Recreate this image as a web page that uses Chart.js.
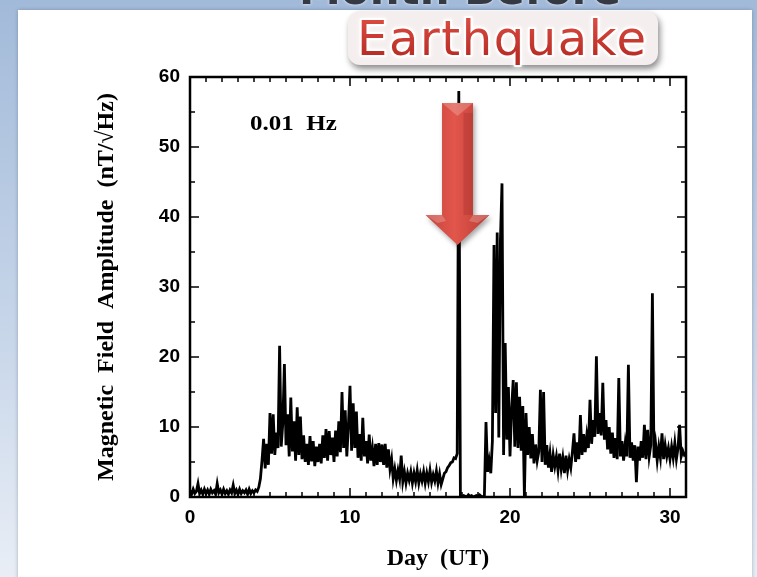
<!DOCTYPE html>
<html>
<head>
<meta charset="utf-8">
<title>Magnetic Field Amplitude</title>
<script src="https://cdn.jsdelivr.net/npm/chart.js@4.4.1/dist/chart.umd.min.js"></script>
<style>
html, body { margin: 0; padding: 0; background: #fff; }
canvas { display: block; }
</style>
</head>
<body>
<canvas id="magChart" width="757" height="577"></canvas>
<script>
// 0.01 Hz amplitude (nT/sqrt(Hz)), one sample every 0.1 day from day 0
const stepDay = 0.1;
const amplitude = [
  0.9, 0.4, 1.1, 0.5, 0.8, 1.9, 0.5, 1.0, 0.4, 1.1,      // day 0
  0.5, 1.0, 0.4, 1.1, 0.6, 0.9, 0.4, 1.9, 0.6, 1.0,      // day 1
  0.4, 1.1, 0.5, 0.9, 0.4, 1.0, 0.6, 1.7, 0.5, 1.0,      // day 2
  0.4, 1.1, 0.5, 0.9, 0.6, 1.0, 0.4, 1.1, 0.5, 0.9,      // day 3
  0.6, 1.0, 0.8, 1.4, 2.6, 5.2, 8.3, 4.1, 7.6, 4.6,      // day 4
  12.0, 6.2, 11.8, 6.0, 9.2, 7.0, 21.6, 7.2, 10.5, 19.0, // day 5
  7.4, 11.8, 5.8, 14.2, 6.5, 10.8, 5.2, 12.8, 6.0, 11.5, // day 6
  5.4, 8.8, 5.0, 7.6, 4.6, 8.7, 5.1, 8.0, 4.4, 7.2,      // day 7
  5.0, 7.6, 4.8, 8.8, 5.6, 9.7, 5.2, 9.4, 6.0, 8.5,      // day 8
  5.0, 9.5, 5.8, 10.8, 6.4, 15.0, 7.0, 12.4, 5.8, 10.2,  // day 9
  15.9, 6.6, 13.4, 7.0, 12.2, 5.6, 9.0, 5.2, 11.3, 5.8,  // day 10
  8.0, 4.8, 8.9, 5.2, 7.0, 4.4, 7.6, 4.6, 7.7, 5.0,      // day 11
  7.5, 4.6, 7.6, 4.2, 6.8, 4.0, 5.4, 2.6, 4.0, 2.4,      // day 12
  3.8, 2.6, 5.9, 2.2, 3.6, 2.0, 3.4, 2.4, 3.6, 2.0,      // day 13
  3.4, 2.2, 3.8, 2.0, 3.3, 2.3, 3.6, 2.0, 3.4, 2.2,      // day 14
  3.8, 2.1, 3.2, 2.3, 3.7, 2.0, 3.3, 1.8, 2.6, 3.4,      // day 15
  3.6, 4.2, 4.5, 4.9, 5.0, 5.6, 5.5, 6.2, 58.0, 0.2,     // day 16
  0.1, 0.2, 0.1, 0.0, 0.3, 0.1, 0.2, 0.0, 0.1, 0.2,      // day 17
  0.1, 0.3, 0.1, 0.0, 0.2, 10.7, 3.6, 5.2, 3.4, 8.0,     // day 18
  36.0, 12.0, 37.8, 8.5, 36.5, 44.8, 6.0, 22.0, 8.2, 15.7, // day 19
  5.8, 12.5, 16.7, 7.2, 16.4, 7.0, 14.3, 6.6, 13.0, 0.1, // day 20
  12.0, 6.0, 10.0, 5.5, 9.0, 4.8, 7.5, 5.2, 6.5, 15.3,   // day 21
  5.0, 15.0, 4.6, 7.4, 4.2, 6.2, 3.6, 6.0, 4.4, 5.8,     // day 22
  3.8, 6.2, 4.0, 5.6, 3.4, 5.9, 3.8, 5.4, 4.2, 6.4,      // day 23
  9.1, 5.0, 7.8, 5.4, 11.7, 6.0, 9.0, 6.4, 8.8, 7.0,     // day 24
  13.9, 7.6, 11.0, 8.6, 20.1, 9.0, 12.0, 8.8, 16.3, 8.2, // day 25
  11.0, 6.8, 10.0, 6.2, 9.2, 5.6, 8.4, 5.4, 17.0, 5.8,   // day 26
  8.0, 5.2, 7.6, 5.8, 18.9, 5.6, 7.8, 5.2, 7.4, 2.1,     // day 27
  7.2, 5.2, 8.0, 5.6, 10.3, 5.4, 9.6, 5.8, 7.4, 29.1,    // day 28
  5.6, 7.6, 5.2, 7.2, 5.6, 9.1, 5.4, 7.4, 5.8, 7.0,      // day 29
  5.4, 7.2, 5.6, 7.7, 5.4, 7.0, 10.3, 5.8, 6.6, 6.0,     // day 30
  6.2
];
const days = amplitude.map((_, i) => +(i * stepDay).toFixed(1));

const dayRange = [0, 31];
const ampRange = [0, 60];
const xMajor = [0, 10, 20, 30];
const yMajor = [0, 10, 20, 30, 40, 50, 60];
const bandLabel = '0.01  Hz';
const eventLabel = 'Earthquake';
const headingText = 'Month Before';
const eventDay = 16.72;   // arrow centre
const eventTip = 36;      // arrow tip, nT/sqrt(Hz)
const eventTop = 56.3;    // arrow tail

const black = '#000';
const tickFont = { family: '"Liberation Sans", Arial, sans-serif', size: 19, weight: 'bold' };
const titleFont = { family: '"Liberation Serif", "Times New Roman", serif', size: 24, weight: 'bold' };

function roundRect(ctx, x, y, w, h, r) {
  ctx.beginPath();
  ctx.moveTo(x + r, y);
  ctx.arcTo(x + w, y, x + w, y + h, r);
  ctx.arcTo(x + w, y + h, x, y + h, r);
  ctx.arcTo(x, y + h, x, y, r);
  ctx.arcTo(x, y, x + w, y, r);
  ctx.closePath();
}

// slide-style backdrop: blue gradient with a white panel on it
const slideBackground = {
  id: 'slideBackground',
  beforeDraw(chart) {
    const { ctx, width, height } = chart;
    ctx.save();
    const g = ctx.createLinearGradient(0, 0, 0, height);
    g.addColorStop(0, '#a2bad9');
    g.addColorStop(0.6, '#c9d7ea');
    g.addColorStop(1, '#e9eef6');
    ctx.fillStyle = g;
    ctx.fillRect(0, 0, width, height);

    // heading from above, only its lower edge shows
    ctx.font = 'bold 42px "DejaVu Sans", sans-serif';
    ctx.textAlign = 'center';
    ctx.textBaseline = 'alphabetic';
    ctx.shadowColor = 'rgba(255,255,255,0.9)';
    ctx.shadowBlur = 3;
    ctx.fillStyle = '#343944';
    ctx.fillText(headingText, 460, 4);

    ctx.shadowColor = 'rgba(40,60,90,0.35)';
    ctx.shadowBlur = 4;
    ctx.fillStyle = '#fff';
    ctx.fillRect(18, 10, 734, height);
    ctx.restore();
  }
};

// closed box with inward ticks on all four sides
const boxFrame = {
  id: 'boxFrame',
  afterDatasetsDraw(chart) {
    const { ctx, chartArea: a, scales: { x, y } } = chart;
    ctx.save();
    ctx.strokeStyle = black;
    ctx.lineWidth = 1.5;
    ctx.beginPath();
    for (let d = dayRange[0]; d <= dayRange[1]; d++) {
      const px = x.getPixelForValue(d);
      const len = d % 10 === 0 ? 9 : 5;
      ctx.moveTo(px, a.bottom); ctx.lineTo(px, a.bottom - len);
      ctx.moveTo(px, a.top); ctx.lineTo(px, a.top + len);
    }
    for (let v = ampRange[0]; v <= ampRange[1]; v += 5) {
      const py = y.getPixelForValue(v);
      const len = v % 10 === 0 ? 9 : 5;
      ctx.moveTo(a.left, py); ctx.lineTo(a.left + len, py);
      ctx.moveTo(a.right, py); ctx.lineTo(a.right - len, py);
    }
    ctx.stroke();
    ctx.lineWidth = 2.5;
    ctx.strokeRect(a.left, a.top, a.right - a.left, a.bottom - a.top);

    // frequency label
    ctx.translate(x.getPixelForValue(3.75), y.getPixelForValue(52.4));
    ctx.scale(1.25, 1);
    ctx.font = `bold 20px ${titleFont.family}`;
    ctx.fillStyle = black;
    ctx.textBaseline = 'alphabetic';
    ctx.fillText(bandLabel, 0, 0);
    ctx.restore();
  }
};

// red arrow and callout box
const eventMarker = {
  id: 'eventMarker',
  afterDraw(chart) {
    const { ctx, scales: { x, y } } = chart;
    const cx = x.getPixelForValue(eventDay);
    const tipY = y.getPixelForValue(eventTip);
    const topY = y.getPixelForValue(eventTop);
    const sh = 15.5, hh = 32, headY = tipY - 30;

    ctx.save();
    ctx.shadowColor = 'rgba(0,0,0,0.35)';
    ctx.shadowBlur = 5;
    ctx.shadowOffsetX = 2;
    ctx.shadowOffsetY = 3;
    ctx.beginPath();
    ctx.moveTo(cx - sh, topY);
    ctx.lineTo(cx + sh, topY);
    ctx.lineTo(cx + sh, headY);
    ctx.lineTo(cx + hh, headY);
    ctx.lineTo(cx, tipY);
    ctx.lineTo(cx - hh, headY);
    ctx.lineTo(cx - sh, headY);
    ctx.closePath();
    const g = ctx.createLinearGradient(cx - hh, 0, cx + hh, 0);
    g.addColorStop(0, '#c4433b');
    g.addColorStop(0.45, '#e2564c');
    g.addColorStop(1, '#bb3b33');
    ctx.fillStyle = g;
    ctx.fill();
    ctx.restore();

    // bevel highlights
    ctx.save();
    ctx.fillStyle = 'rgba(255,255,255,0.22)';
    ctx.beginPath();
    ctx.moveTo(cx - sh, topY); ctx.lineTo(cx + sh, topY); ctx.lineTo(cx, topY + 13);
    ctx.closePath(); ctx.fill();
    ctx.beginPath();
    ctx.moveTo(cx - hh, headY); ctx.lineTo(cx - sh, headY); ctx.lineTo(cx - sh + 4, headY + 6); ctx.lineTo(cx - hh + 12, headY + 8);
    ctx.closePath(); ctx.fill();
    ctx.beginPath();
    ctx.moveTo(cx + hh, headY); ctx.lineTo(cx + sh, headY); ctx.lineTo(cx + sh - 4, headY + 6); ctx.lineTo(cx + hh - 12, headY + 8);
    ctx.closePath(); ctx.fill();
    ctx.fillStyle = 'rgba(120,20,15,0.18)';
    ctx.fillRect(cx + 6, topY + 10, sh - 6, headY - topY - 10);
    ctx.restore();

    // callout
    ctx.save();
    ctx.shadowColor = 'rgba(0,0,0,0.45)';
    ctx.shadowBlur = 6;
    ctx.shadowOffsetX = 2;
    ctx.shadowOffsetY = 4;
    roundRect(ctx, 348, 11, 310, 54, 12);
    ctx.fillStyle = '#f5eeee';
    ctx.fill();
    ctx.restore();

    ctx.save();
    ctx.font = '48px "DejaVu Sans", sans-serif';
    ctx.letterSpacing = '1.6px';
    ctx.textBaseline = 'alphabetic';
    ctx.lineJoin = 'round';
    ctx.shadowColor = 'rgba(255,255,255,1)';
    ctx.shadowBlur = 4;
    ctx.strokeStyle = '#fff';
    ctx.lineWidth = 4;
    ctx.strokeText(eventLabel, 357, 55);
    ctx.shadowBlur = 0;
    const tg = ctx.createLinearGradient(0, 20, 0, 56);
    tg.addColorStop(0, '#d94a40');
    tg.addColorStop(1, '#b92d25');
    ctx.fillStyle = tg;
    ctx.fillText(eventLabel, 357, 55);
    ctx.restore();
  }
};

new Chart(document.getElementById('magChart'), {
  type: 'line',
  data: {
    datasets: [{
      data: days.map((d, i) => ({ x: d, y: amplitude[i] })),
      borderColor: black,
      borderWidth: 2.8,
      pointRadius: 0,
      tension: 0,
      fill: false
    }]
  },
  options: {
    responsive: false,
    animation: false,
    events: [],
    layout: { padding: { left: 92, right: 71, top: 77, bottom: 4 } },
    plugins: { legend: { display: false }, tooltip: { enabled: false } },
    scales: {
      x: {
        type: 'linear',
        min: dayRange[0],
        max: dayRange[1],
        grid: { display: false, drawTicks: false },
        border: { display: false },
        afterBuildTicks: s => { s.ticks = xMajor.map(v => ({ value: v })); },
        afterFit: s => { s.height = 76; },
        ticks: { color: black, font: tickFont, padding: 9, maxRotation: 0 },
        title: { display: true, text: 'Day  (UT)', color: black, font: titleFont, padding: 0 }
      },
      y: {
        min: ampRange[0],
        max: ampRange[1],
        grid: { display: false, drawTicks: false },
        border: { display: false },
        afterBuildTicks: s => { s.ticks = yMajor.map(v => ({ value: v })); },
        afterFit: s => { s.width = 98; },
        ticks: { color: black, font: tickFont, padding: 10 },
        title: { display: true, text: 'Magnetic  Field  Amplitude  (nT/√Hz)', color: black, font: titleFont, padding: 0 }
      }
    }
  },
  plugins: [slideBackground, boxFrame, eventMarker]
});
</script>
</body>
</html>
